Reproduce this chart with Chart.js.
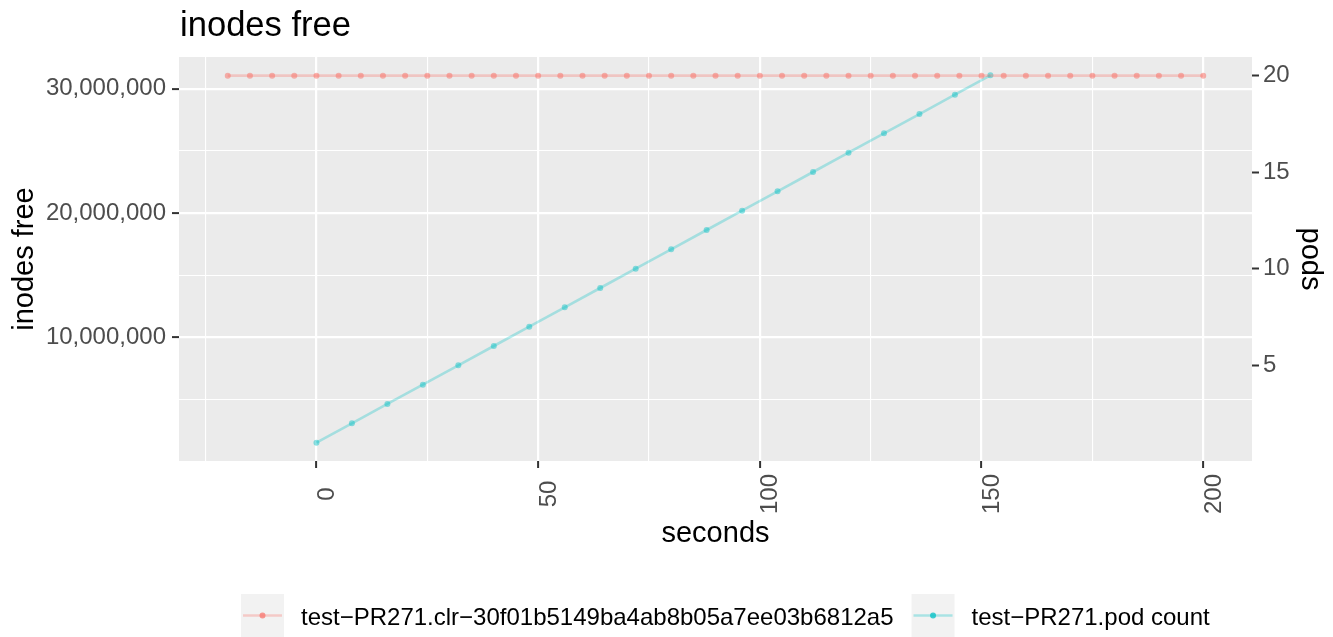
<!DOCTYPE html>
<html>
<head>
<meta charset="utf-8">
<title>inodes free</title>
<script src="https://cdn.jsdelivr.net/npm/chart.js@4.4.1/dist/chart.umd.min.js"></script>
<style>
  html, body { margin: 0; padding: 0; background: #fff; }
  canvas { display: block; }
</style>
</head>
<body>
<canvas id="inodesChart" width="1333" height="637"></canvas>
<script>
// inodes free on the cluster, sampled every 5 s
const inodeSeconds = [-20, -15, -10, -5, 0, 5, 10, 15, 20, 25, 30, 35, 40, 45, 50,
  55, 60, 65, 70, 75, 80, 85, 90, 95, 100, 105, 110, 115, 120, 125, 130, 135, 140,
  145, 150, 155, 160, 165, 170, 175, 180, 185, 190, 195, 200];
const inodesFree = [31050000, 31050000, 31050000, 31050000, 31050000, 31050000,
  31050000, 31050000, 31050000, 31050000, 31050000, 31050000, 31050000, 31050000,
  31050000, 31050000, 31050000, 31050000, 31050000, 31050000, 31050000, 31050000,
  31050000, 31050000, 31050000, 31050000, 31050000, 31050000, 31050000, 31050000,
  31050000, 31050000, 31050000, 31050000, 31050000, 31050000, 31050000, 31050000,
  31050000, 31050000, 31050000, 31050000, 31050000, 31050000, 31050000];

// pods started, one every 8 s
const podSeconds = [0, 8, 16, 24, 32, 40, 48, 56, 64, 72, 80, 88, 96, 104, 112,
  120, 128, 136, 144, 152];
const podCount = [1, 2, 3, 4, 5, 6, 7, 8, 9, 10, 11, 12, 13, 14, 15, 16, 17, 18,
  19, 20];

const xTickLabels = [0, 50, 100, 150, 200];
const inodeTickLabels = [10000000, 20000000, 30000000];
const podTickLabels = [5, 10, 15, 20];

const inodeSeriesName = "test\u2212PR271.clr\u221230f01b5149ba4ab8b05a7ee03b6812a5";
const podSeriesName = "test\u2212PR271.pod count";

const xRange = [-31, 211];
const inodeRange = [75000, 32550000];
const podRange = [0.05, 20.95];

const FONT = '"Liberation Sans", Arial, Helvetica, sans-serif';
const TICK_SIZE = 24;
const TICK_FONT = { family: FONT, size: TICK_SIZE };

// major breaks plus the minor ones halfway between, kept inside the range
function withMinors(major, lo, hi) {
  const half = (major[1] - major[0]) / 2;
  const all = [];
  for (let v = major[0] - half; v <= major[major.length - 1] + half + 1e-9; v += half) {
    all.push(v);
  }
  return all.filter(v => v >= lo && v <= hi);
}

const isMajor = (list, v) => list.some(m => Math.abs(m - v) < 1e-6);

const gridWidth = list => c => (c.tick && isMajor(list, c.tick.value) ? 2.2 : 1.1);
const tickColour = list => c => (c.tick && isMajor(list, c.tick.value) ? '#333333' : 'rgba(0,0,0,0)');

const ggDecor = {
  id: 'ggDecor',
  beforeDraw(chart) {
    const { ctx, chartArea: a } = chart;
    ctx.save();
    ctx.fillStyle = '#ffffff';
    ctx.fillRect(0, 0, chart.width, chart.height);
    ctx.fillStyle = '#EBEBEB';
    ctx.fillRect(a.left, a.top, a.right - a.left, a.bottom - a.top);
    ctx.restore();
  },
  afterDraw(chart) {
    const { ctx, chartArea: a, scales } = chart;
    ctx.save();

    // plot title
    ctx.fillStyle = '#000000';
    ctx.font = `34.6px ${FONT}`;
    ctx.textAlign = 'left';
    ctx.textBaseline = 'alphabetic';
    ctx.fillText('inodes free', a.left + 1, 36);

    // x tick labels, turned to read upwards
    ctx.font = `${TICK_SIZE}px ${FONT}`;
    ctx.fillStyle = '#4D4D4D';
    ctx.textAlign = 'center';
    xTickLabels.forEach(v => {
      const px = scales.x.getPixelForValue(v);
      ctx.save();
      ctx.translate(px + 17.5, a.bottom + 33);
      ctx.rotate(-Math.PI / 2);
      ctx.fillText(String(v), 0, 0);
      ctx.restore();
    });

    // axis titles
    const midY = (a.top + a.bottom) / 2;
    ctx.fillStyle = '#000000';
    ctx.font = `29px ${FONT}`;
    ctx.fillText('seconds', (a.left + a.right) / 2, 542);

    ctx.save();
    ctx.translate(33, midY);
    ctx.rotate(-Math.PI / 2);
    ctx.fillText('inodes free', 0, 0);
    ctx.restore();

    ctx.save();
    ctx.translate(1302, midY);
    ctx.rotate(Math.PI / 2);
    ctx.fillText('pods', 0, 0);
    ctx.restore();

    // legend along the bottom: grey key, line with a dot, then the name
    const keySize = 43;
    const keyTop = 594;
    const keyMid = keyTop + keySize / 2;
    let x = 241;
    ctx.font = `${TICK_SIZE}px ${FONT}`;
    ctx.textAlign = 'left';
    chart.data.datasets.forEach(ds => {
      ctx.fillStyle = '#F2F2F2';
      ctx.fillRect(x, keyTop, keySize, keySize);

      ctx.strokeStyle = ds.borderColor;
      ctx.lineWidth = ds.borderWidth;
      ctx.beginPath();
      ctx.moveTo(x + 2, keyMid);
      ctx.lineTo(x + keySize - 2, keyMid);
      ctx.stroke();

      ctx.fillStyle = ds.legendPoint;
      ctx.beginPath();
      ctx.arc(x + keySize / 2, keyMid, ds.pointRadius, 0, Math.PI * 2);
      ctx.fill();

      ctx.fillStyle = '#000000';
      ctx.fillText(ds.label, x + keySize + 17, keyMid + 9.5);
      x += keySize + 17 + ctx.measureText(ds.label).width + 18;
    });

    ctx.restore();
  }
};

new Chart(document.getElementById('inodesChart'), {
  type: 'line',
  data: {
    datasets: [
      {
        label: inodeSeriesName,
        data: inodeSeconds.map((s, i) => ({ x: s, y: inodesFree[i] })),
        yAxisID: 'y',
        borderColor: 'rgba(248,118,109,0.32)',
        borderWidth: 2.6,
        pointBackgroundColor: 'rgba(248,118,109,0.55)',
        pointBorderWidth: 0,
        pointRadius: 3,
        legendPoint: 'rgba(248,118,109,0.75)',
        tension: 0
      },
      {
        label: podSeriesName,
        data: podSeconds.map((s, i) => ({ x: s, y: podCount[i] })),
        yAxisID: 'y2',
        borderColor: 'rgba(0,191,196,0.3)',
        borderWidth: 2.6,
        pointBackgroundColor: 'rgba(0,191,196,0.45)',
        pointBorderWidth: 0,
        pointRadius: 3,
        legendPoint: 'rgba(0,191,196,0.75)',
        tension: 0
      }
    ]
  },
  options: {
    responsive: false,
    animation: false,
    devicePixelRatio: 1,
    layout: { padding: { top: 57, left: 0, right: 0, bottom: 0 }, autoPadding: false },
    plugins: {
      legend: { display: false },
      title: { display: false },
      tooltip: { enabled: false }
    },
    scales: {
      x: {
        type: 'linear',
        position: 'bottom',
        min: xRange[0],
        max: xRange[1],
        afterBuildTicks: s => { s.ticks = withMinors(xTickLabels, xRange[0], xRange[1]).map(v => ({ value: v })); },
        afterFit: s => { s.height = 176; },
        border: { display: false },
        grid: {
          color: '#ffffff',
          lineWidth: gridWidth(xTickLabels),
          drawTicks: true,
          tickLength: 7,
          tickWidth: 2,
          tickColor: tickColour(xTickLabels)
        },
        ticks: { display: false, autoSkip: false }
      },
      y: {
        type: 'linear',
        position: 'left',
        min: inodeRange[0],
        max: inodeRange[1],
        afterBuildTicks: s => { s.ticks = withMinors(inodeTickLabels, inodeRange[0], inodeRange[1]).map(v => ({ value: v })); },
        afterFit: s => { s.width = 179; },
        border: { display: false },
        grid: {
          color: '#ffffff',
          lineWidth: gridWidth(inodeTickLabels),
          drawTicks: true,
          tickLength: 7,
          tickWidth: 2,
          tickColor: tickColour(inodeTickLabels)
        },
        ticks: {
          autoSkip: false,
          padding: 6,
          color: '#4D4D4D',
          font: TICK_FONT,
          callback: v => (isMajor(inodeTickLabels, v) ? Number(v).toLocaleString('en-US') : '')
        }
      },
      y2: {
        type: 'linear',
        position: 'right',
        min: podRange[0],
        max: podRange[1],
        afterBuildTicks: s => { s.ticks = podTickLabels.map(v => ({ value: v })); },
        afterFit: s => { s.width = 81; },
        border: { display: false },
        grid: {
          drawOnChartArea: false,
          drawTicks: true,
          tickLength: 7,
          tickWidth: 2,
          tickColor: '#333333'
        },
        ticks: {
          autoSkip: false,
          padding: 4,
          color: '#4D4D4D',
          font: TICK_FONT,
          callback: v => String(v)
        }
      }
    }
  },
  plugins: [ggDecor]
});
</script>
</body>
</html>
